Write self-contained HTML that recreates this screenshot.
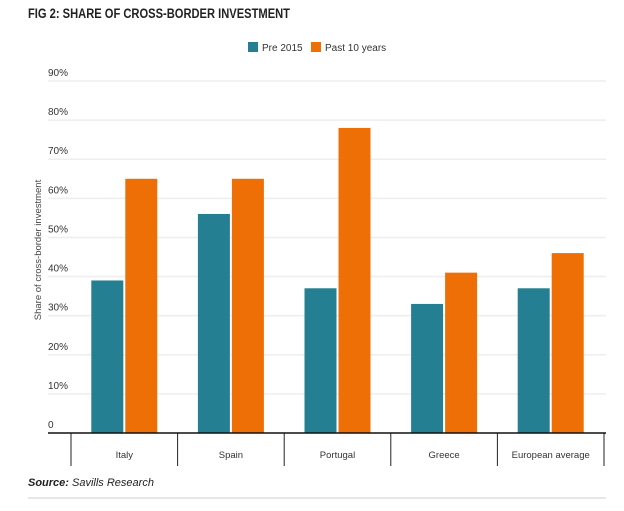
<!DOCTYPE html>
<html><head><meta charset="utf-8"><style>
body{margin:0;background:#fff;width:624px;height:506px;overflow:hidden;font-family:"Liberation Sans",sans-serif}
svg text{font-family:"Liberation Sans",sans-serif}
</style></head><body>
<svg id="c" width="624" height="506">
<text x="28" y="18" font-size="13.5" font-weight="bold" fill="#222" textLength="262" lengthAdjust="spacingAndGlyphs">FIG 2: SHARE OF CROSS-BORDER INVESTMENT</text>
<g>
<rect x="248" y="42" width="10" height="10" fill="#237f91"/>
<text x="262" y="51" font-size="10" fill="#333">Pre 2015</text>
<rect x="311" y="42" width="10" height="10" fill="#ee6f06"/>
<text x="325" y="51" font-size="10" fill="#333">Past 10 years</text>
</g>
<text transform="translate(41,250) rotate(-90)" text-anchor="middle" font-size="9.5" fill="#444">Share of cross-border investment</text>
<g id="plot"></g>
<text x="28" y="486" font-size="11" font-style="italic" fill="#222"><tspan font-weight="bold">Source:</tspan> Savills Research</text>
<line x1="28" x2="606" y1="498" y2="498" stroke="#ddd" stroke-width="1.5"/>
</svg>
<script>
const categories=["Italy","Spain","Portugal","Greece","European average"];
const pre2015=[39,56,37,33,37];
const past10=[65,65,78,41,46];
const ticks=[0,10,20,30,40,50,60,70,80,90];
const tickLabels=["0","10%","20%","30%","40%","50%","60%","70%","80%","90%"];
const NS="http://www.w3.org/2000/svg";
const g=document.getElementById('plot');
const y0=433,yTop=81,vMax=90,xL=71,xR=604;
const y=v=>y0-(v/vMax)*(y0-yTop);
const cw=(xR-xL)/categories.length;
const x=i=>xL+i*cw;
function mk(t,a){const e=document.createElementNS(NS,t);for(const k in a)e.setAttribute(k,a[k]);g.appendChild(e);return e;}
ticks.forEach((t,i)=>{
 if(t>0){const l=mk('line',{x1:48,x2:606,y1:y(t),y2:y(t),stroke:'#eee','stroke-width':1.5});
 
 }
 const tx=mk('text',{x:48,y:y(t)-5,'font-size':10,fill:'#333'});tx.textContent=tickLabels[i];
 
 
});
const bw=32;
categories.forEach((c,i)=>{
 const cx=x(i)+cw/2;
 const r1=mk('rect',{x:cx-bw-1,y:y(pre2015[i]),width:bw,height:y0-y(pre2015[i]),fill:'#237f91'});
 
 
 const r2=mk('rect',{x:cx+1,y:y(past10[i]),width:bw,height:y0-y(past10[i]),fill:'#ee6f06'});
 
 
 const t=mk('text',{x:cx,y:458,'font-size':9.5,fill:'#333','text-anchor':'middle'});t.textContent=c;
 
 
});
for(let i=0;i<=categories.length;i++){
 const d=mk('line',{x1:x(i),x2:x(i),y1:y0,y2:466,stroke:'#222','stroke-width':1});
 
 
}
const ax=mk('line',{x1:48,x2:606,y1:y0,y2:y0,stroke:'#111','stroke-width':1.5});


</script>
</body></html>
